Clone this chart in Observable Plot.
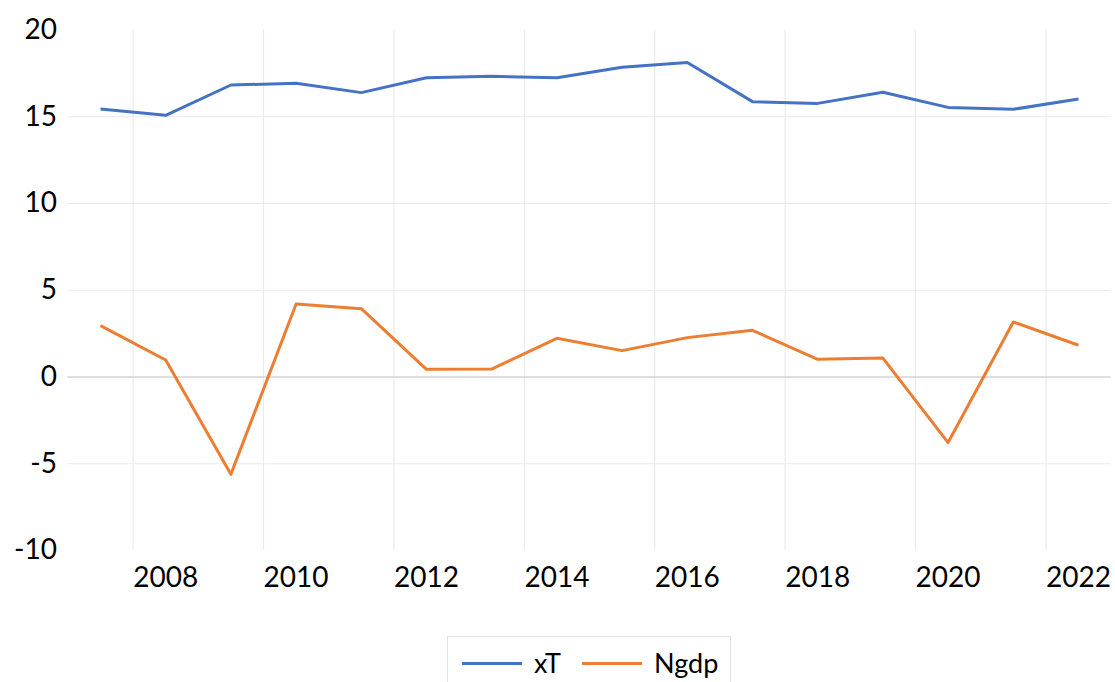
<!DOCTYPE html>
<html>
<head>
<meta charset="utf-8">
<script src="https://cdn.jsdelivr.net/npm/d3@7"></script>
<script src="https://cdn.jsdelivr.net/npm/@observablehq/plot@0.6"></script>
<style>
  html, body { margin: 0; padding: 0; background: #fff; }
  #wrap { position: relative; width: 1115px; height: 682px; overflow: hidden; font-family: Lato, "Liberation Sans", sans-serif; }
  #legend { position: absolute; left: 447px; top: 636px; width: 284px; height: 60px; border: 1px solid #e4e4e4; box-sizing: border-box; }
  .item { position: absolute; top: 10px; font-size: 27px; line-height: 32px; color: #000; display: flex; align-items: center; }
  .swatch { display: inline-block; width: 60px; height: 3px; margin-right: 12px; }
</style>
</head>
<body>
<div id="wrap">
  <div id="chart"></div>
  <div id="legend"></div>
</div>
<script>
const years = [2007, 2008, 2009, 2010, 2011, 2012, 2013, 2014, 2015, 2016, 2017, 2018, 2019, 2020, 2021, 2022];
const xT   = [15.45, 15.08, 16.83, 16.93, 16.39, 17.25, 17.33, 17.25, 17.85, 18.13, 15.87, 15.77, 16.41, 15.54, 15.43, 16.02];
const Ngdp = [2.96, 0.98, -5.61, 4.21, 3.94, 0.44, 0.46, 2.23, 1.52, 2.27, 2.69, 1.02, 1.09, -3.78, 3.17, 1.83];
const seriesNames = ["xT", "Ngdp"];
const seriesColors = ["#4472C4", "#ED7D31"];
const xTickYears = [2008, 2010, 2012, 2014, 2016, 2018, 2020, 2022];
const yTicks = [-10, -5, 0, 5, 10, 15, 20];
const yGrid = [-5, 5, 10, 15];
const xGrid = [2007.5, 2009.5, 2011.5, 2013.5, 2015.5, 2017.5, 2019.5, 2021.5];

const rows = [];
years.forEach((y, i) => {
  rows.push({year: y, value: xT[i], series: seriesNames[0]});
  rows.push({year: y, value: Ngdp[i], series: seriesNames[1]});
});

const chart = Plot.plot({
  width: 1115,
  height: 610,
  marginTop: 29.5,
  marginBottom: 60,
  marginLeft: 67.4,
  marginRight: 4.4,
  style: {fontFamily: "Lato, 'Liberation Sans', sans-serif", background: "#fff", overflow: "visible"},
  x: {domain: [years[0] - 0.5, years[years.length - 1] + 0.5]},
  y: {domain: [-10, 20]},
  color: {domain: seriesNames, range: seriesColors},
  marks: [
    Plot.ruleY(yGrid, {stroke: "#ebebeb", strokeWidth: 1.2}),
    Plot.ruleX(xGrid, {y1: -10, y2: 20, stroke: "#ebebeb", strokeWidth: 1.2}),
    Plot.ruleY([0], {stroke: "#d4d4d4", strokeWidth: 1.5}),
    Plot.axisY(yTicks, {tickSize: 0, tickPadding: 11, fontSize: 28, fill: "#000", tickFormat: d => String(d), label: null}),
    Plot.axisX(xTickYears, {tickSize: 0, tickPadding: 17, fontSize: 28, fill: "#000", tickFormat: d => String(d), label: null}),
    Plot.line(rows, {x: "year", y: "value", z: "series", stroke: "series", strokeWidth: 3, strokeLinejoin: "round", strokeLinecap: "butt"})
  ]
});
document.getElementById("chart").appendChild(chart);

const legend = document.getElementById("legend");
const lefts = [14, 134];
seriesNames.forEach((name, i) => {
  const it = document.createElement("div");
  it.className = "item";
  it.style.left = lefts[i] + "px";
  const sw = document.createElement("span");
  sw.className = "swatch";
  sw.style.background = seriesColors[i];
  const tx = document.createElement("span");
  tx.textContent = name;
  it.appendChild(sw);
  it.appendChild(tx);
  legend.appendChild(it);
});
</script>
</body>
</html>
